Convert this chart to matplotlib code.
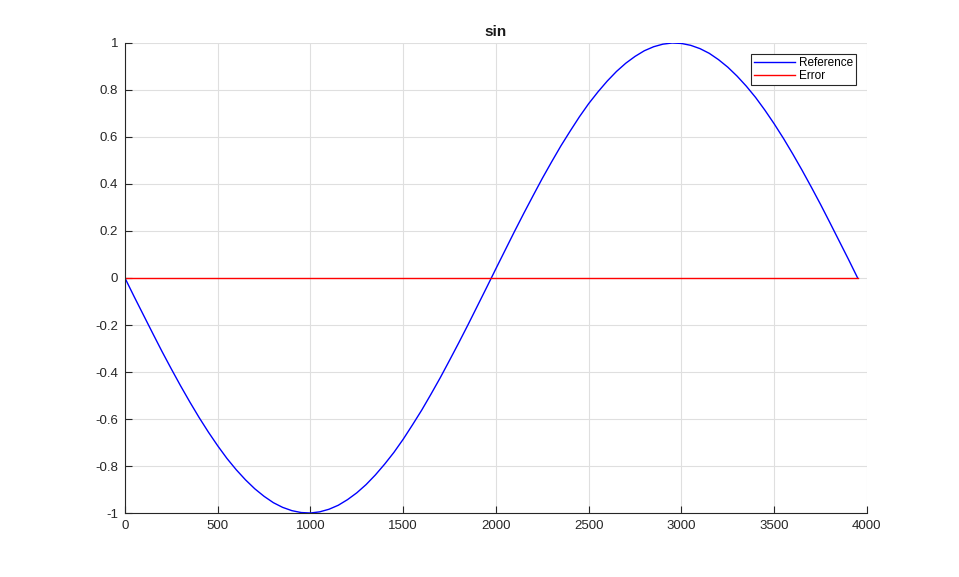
import matplotlib.pyplot as plt

# sample points (every 50 along x)
sample_x = list(range(0, 4000, 50))[:80]
reference = [0.0, -0.080, -0.158, -0.236, -0.313, -0.387, -0.459, -0.528, -0.594, -0.656,
             -0.714, -0.768, -0.816, -0.859, -0.897, -0.929, -0.956, -0.976, -0.990, -0.998,
             -1.000, -0.995, -0.984, -0.967, -0.943, -0.914, -0.879, -0.838, -0.792, -0.742,
             -0.686, -0.625, -0.562, -0.494, -0.424, -0.350, -0.275, -0.198, -0.119, -0.040,
             0.040, 0.119, 0.198, 0.275, 0.350, 0.424, 0.494, 0.562, 0.625, 0.686,
             0.742, 0.792, 0.838, 0.879, 0.914, 0.943, 0.967, 0.984, 0.995, 1.000,
             0.998, 0.990, 0.976, 0.956, 0.929, 0.897, 0.859, 0.816, 0.768, 0.714,
             0.656, 0.594, 0.528, 0.459, 0.387, 0.313, 0.236, 0.158, 0.080, 0.0]
error = [0.0] * len(sample_x)

x_ticks = [0, 500, 1000, 1500, 2000, 2500, 3000, 3500, 4000]
y_ticks = [-1, -0.8, -0.6, -0.4, -0.2, 0, 0.2, 0.4, 0.6, 0.8, 1]
y_labels = ["-1", "-0.8", "-0.6", "-0.4", "-0.2", "0", "0.2", "0.4", "0.6", "0.8", "1"]

plt.rcParams["font.family"] = ["Liberation Sans", "DejaVu Sans"]

fig = plt.figure(figsize=(9.59, 5.77), dpi=100)
ax = fig.add_axes([0.1303, 0.1109, 0.7737, 0.8146])

ax.plot(sample_x, reference, color="#0000ff", linewidth=1.0, label="Reference")
ax.plot(sample_x, error, color="#ff0000", linewidth=1.0, label="Error")

ax.set_xlim(0, 4000)
ax.set_ylim(-1, 1)
ax.set_xticks(x_ticks)
ax.set_xticklabels([str(t) for t in x_ticks])
ax.set_yticks(y_ticks)
ax.set_yticklabels(y_labels)

ax.grid(True, color="#dfdfdf", linewidth=0.8)
ax.set_axisbelow(True)
for side in ["top", "right"]:
    ax.spines[side].set_visible(False)
for side in ["left", "bottom"]:
    ax.spines[side].set_color("#262626")
    ax.spines[side].set_linewidth(0.8)
ax.tick_params(direction="in", length=5, width=0.8, colors="#262626",
               labelsize=9.5, pad=5)

ax.set_title("sin", fontsize=11, fontweight="bold", color="#1a1a1a", pad=5)

leg = ax.legend(loc="upper right", fontsize=8.5, fancybox=False, framealpha=1,
                edgecolor="#262626", borderpad=0.3, handlelength=3.4,
                handletextpad=0.35, labelspacing=0.05, borderaxespad=0.9)
leg.get_frame().set_linewidth(0.8)

fig.savefig("out.png", dpi=100)
